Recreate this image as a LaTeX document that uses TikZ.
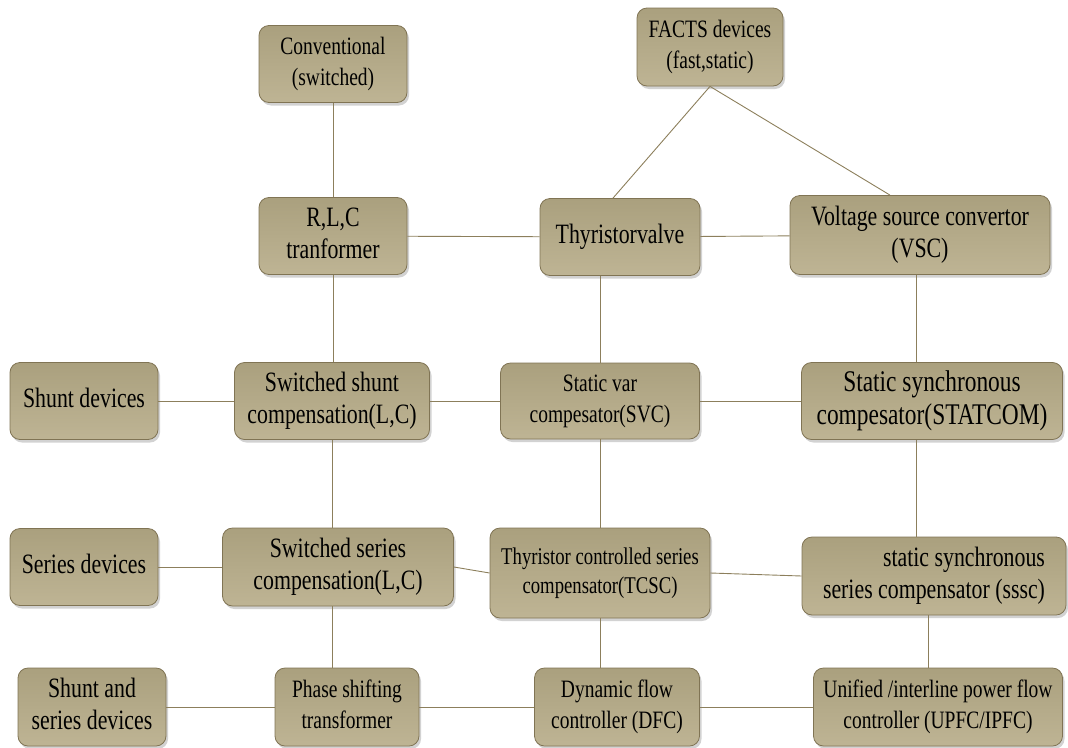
\documentclass[tikz,border=0pt]{standalone}
\usepackage{fontspec}
\usepackage{graphicx}
\setmainfont{Liberation Serif}
\usetikzlibrary{positioning,shadows}
\definecolor{boxtop}{RGB}{170,160,126}
\definecolor{boxbot}{RGB}{190,180,148}
\definecolor{boxline}{RGB}{128,116,84}
\definecolor{linec}{RGB}{140,127,92}
\definecolor{linel}{RGB}{214,206,185}
\newcommand{\bigtxt}{\fontsize{28}{32}\selectfont}
\newcommand{\smalltxt}{\fontsize{25}{31}\selectfont}
% narrow, tall lettering as in the scanned chart
\newcommand{\nar}[2][c]{\scalebox{0.78}[1]{\begin{tabular}{@{}#1@{}}#2\end{tabular}}}

\begin{document}
\begin{tikzpicture}[x=1pt, y=-1pt,
            block/.style={rectangle, rounded corners=10pt, draw=boxline, line width=0.8pt,
                top color=boxtop, bottom color=boxbot, align=center, inner sep=2pt,
                drop shadow={shadow xshift=2pt, shadow yshift=-3pt, fill=black!35, opacity=0.5},
                font=\bigtxt},
            conn/.style={draw=linec, line width=0.9pt, double=linel, double distance=0.7pt}]
            \useasboundingbox (0,0) rectangle (1068,747);
            % top two rows
            \node[block, minimum width=148pt, minimum height=77pt, font=\smalltxt] (conv)   at (333,64)  {\nar{Conventional\\(switched)}};
            \node[block, minimum width=146pt, minimum height=78pt, font=\smalltxt] (facts)  at (710,47)  {\nar{FACTS devices\\(fast,static)}};
            \node[block, minimum width=148pt, minimum height=77pt] (rlc)    at (333,236) {\nar{R,L,C\\tranformer}};
            \node[block, minimum width=160pt, minimum height=77pt] (thyr)   at (620,237) {\nar{Thyristorvalve}};
            \node[block, minimum width=260pt, minimum height=79pt] (vsc)    at (920,235) {\nar{Voltage source convertor\\(VSC)}};
            % shunt row
            \node[block, minimum width=148pt, minimum height=77pt] (shunt)   at (84,401)  {\nar{Shunt devices}};
            \node[block, minimum width=195pt, minimum height=77pt] (swshunt) at (332,401) {\nar{Switched shunt\\compensation(L,C)}};
            \node[block, minimum width=199pt, minimum height=76pt, font=\smalltxt] (svc) at (600,401) {\nar{Static var\\compesator(SVC)}};
            \node[block, minimum width=261pt, minimum height=77pt, font=\fontsize{30}{33}\selectfont] (statcom) at (932,401) {\nar{Static synchronous\\compesator(STATCOM)}};
            % series row
            \node[block, minimum width=148pt, minimum height=77pt] (series)   at (84,567)  {\nar{Series devices}};
            \node[block, minimum width=231pt, minimum height=78pt] (swseries) at (338,567) {\nar{Switched series\\compensation(L,C)}};
            \node[block, minimum width=220pt, minimum height=90pt, font=\fontsize{24}{29}\selectfont] (tcsc) at (600,573) {\nar{Thyristor controlled series\\compensator(TCSC)}};
            \node[block, minimum width=264pt, minimum height=78pt] (sssc) at (934,576) {\nar[r]{static synchronous\\series compensator (sssc)}};
            % shunt and series row
            \node[block, minimum width=148pt, minimum height=78pt] (both)  at (92,707)  {\nar{Shunt and\\series devices}};
            \node[block, minimum width=144pt, minimum height=78pt, font=\smalltxt] (pst)  at (347,707) {\nar{Phase shifting\\transformer}};
            \node[block, minimum width=165pt, minimum height=78pt, font=\smalltxt] (dfc)  at (617,707) {\nar{Dynamic flow\\controller (DFC)}};
            \node[block, minimum width=249pt, minimum height=78pt, font=\smalltxt] (upfc) at (938,707) {\nar{Unified /interline power flow\\controller (UPFC/IPFC)}};

            \path[conn] (conv) edge (rlc)
                    (rlc) edge (thyr)
                    (thyr) edge (vsc)
                    (facts.south) edge ([xshift=-7pt]thyr.north)
                    (facts.south) edge ([xshift=-30pt]vsc.north)
                    (thyr.south -| svc) edge (svc.north)
                    ([xshift=-4pt]vsc.south) edge ([xshift=-4pt]vsc.south |- statcom.north)
                    (rlc.south) edge (rlc.south |- swshunt.north)
                    (shunt) edge (swshunt)
                    (swshunt) edge (svc)
                    (svc) edge (statcom)
                    (swshunt.south) edge (swshunt.south |- swseries.north)
                    (svc.south) edge (svc.south |- tcsc.north)
                    ([xshift=-4pt]vsc.south |- statcom.south) edge ([xshift=-4pt]vsc.south |- sssc.north)
                    (series) edge (swseries)
                    (swseries.east) edge (tcsc.west)
                    (tcsc.east) edge (sssc.west)
                    (swseries.south -| swshunt) edge (pst.north -| swshunt)
                    (tcsc.south) edge (tcsc.south |- dfc.north)
                    ([xshift=-6pt]sssc.south) edge ([xshift=-6pt]sssc.south |- upfc.north)
                    (both) edge (pst)
                    (pst) edge (dfc)
                    (dfc) edge (upfc);
        \end{tikzpicture}
\end{document}
